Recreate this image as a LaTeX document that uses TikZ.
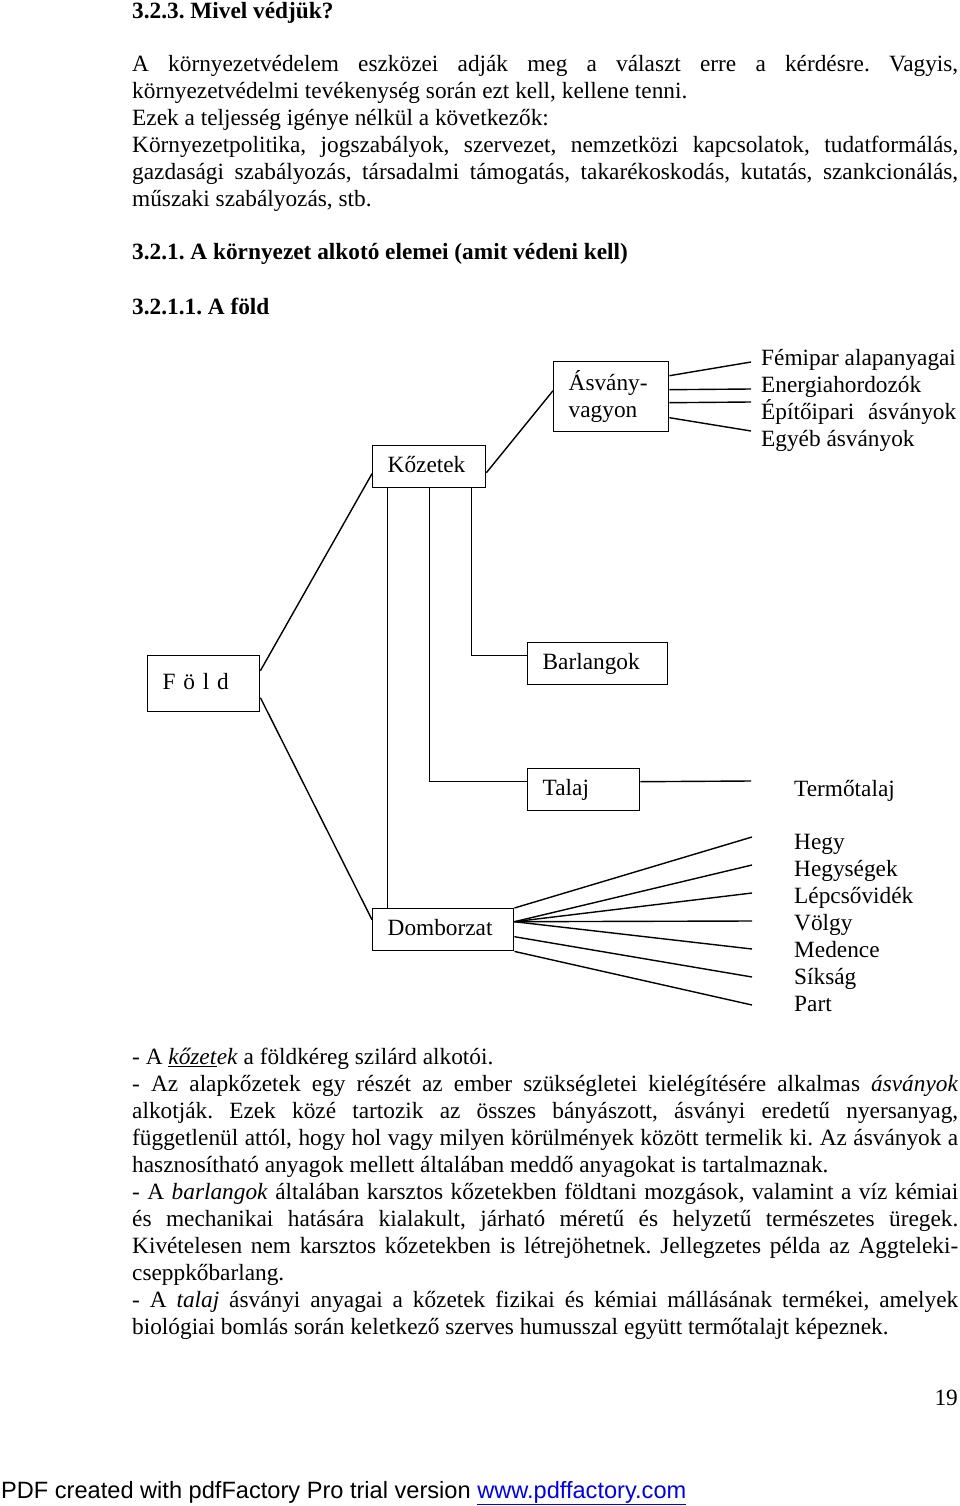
\documentclass[tikz,border=0pt]{standalone}
\usepackage{fontspec}
\setmainfont{Liberation Serif}
\newfontfamily\footfont{Liberation Sans}
\usetikzlibrary{positioning}
\definecolor{linkblue}{RGB}{0,0,238}
\tolerance=9999
\tikzset{x=1pt, y=-1pt, % one unit = one pixel of the page, y grows downwards
  every node/.style={inner sep=0pt,
    font=\fontsize{23.3}{27}\selectfont\frenchspacing},
  box/.style={ % framed parts of the tree
    draw, line width=1.4pt, anchor=north west,
    inner xsep=15pt, minimum height=42pt, align=left,
    execute at begin node=\strut},
  leaf/.style={anchor=base west},   % plain labels and single lines
  head/.style={anchor=base west,
    font=\fontsize{23.3}{27}\selectfont\bfseries\frenchspacing},
  para/.style={anchor=north west, text width=826pt, align=justify,
    execute at begin node=\strut},
  twig/.style={line width=1.4pt},   % slanted and fanned connectors
  stem/.style={line width=1.1pt}}   % straight ones below the rocks

\begin{document}
\begin{tikzpicture}
  \useasboundingbox (0,0) rectangle (960,1506);

  \node [head] (hwhat) at (132,19) {3.2.3. Mivel védjük?};
  \node [para] (ptools) at (132,52.1) {A környezetvédelem eszközei adják meg a választ erre a kérdésre. Vagyis,\linebreak
    környezetvédelmi tevékenység során ezt kell, kellene tenni.\par
    Ezek a teljesség igénye nélkül a következők:\par
    Környezetpolitika, jogszabályok, szervezet, nemzetközi kapcsolatok, tudatformálás,\linebreak
    gazdasági szabályozás, társadalmi támogatás, takarékoskodás, kutatás, szankcionálás,\linebreak
    műszaki szabályozás, stb.};
  \node [head] (hparts) at (132,260) {3.2.1. A környezet alkotó elemei (amit védeni kell)};
  \node [head] (hearth) at (132,314) {3.2.1.1. A föld};

  % the tree
  \node [box, text width=82pt, minimum height=56pt] (fold) at (147,655) {F ö l d};
  \node [box, text width=83pt] (kozetek) at (372,445) {Kőzetek};
  \node [box, text width=85pt, minimum height=70pt] (asvany) at (553,361) {Ásvány-\\vagyon};
  \node [box, text width=110pt] (barlang) at (527,642) {Barlangok};
  \node [box, text width=82pt] (talaj) at (527,768) {Talaj};
  \node [box, text width=111pt] (domb) at (372,908) {Domborzat};

  \draw [twig] ([yshift=13pt]fold.east) -- ([yshift=-7pt]kozetek.west);
  \draw [twig] ([yshift=-14pt]fold.east) -- ([yshift=10pt]domb.west);
  \draw [twig] ([yshift=-6pt]kozetek.east) -- ([yshift=6pt]asvany.west);

  \draw [stem] ([xshift=-42pt]kozetek.south) -- ([xshift=-42pt]kozetek.south |- domb.north);
  \draw [stem] (kozetek.south) |- ([yshift=8pt]talaj.west);
  \draw [stem] ([xshift=42pt]kozetek.south) |- ([yshift=8pt]barlang.west);

  % mineral wealth
  \coordinate (asv1) at (751,362);
  \coordinate (asv2) at (751,389);
  \coordinate (asv3) at (751,402);
  \coordinate (asv4) at (751,431);
  \draw [twig] ([yshift=21pt]asvany.east) -- (asv1);
  \draw [twig] ([yshift=7pt]asvany.east) -- (asv2);
  \draw [twig] ([yshift=-6pt]asvany.east) -- (asv3);
  \draw [twig] ([yshift=-21pt]asvany.east) -- (asv4);
  \node [leaf] (femip) at (761,365) {Fémipar alapanyagai};
  \node [leaf] (energ) at (761,392) {Energiahordozók};
  \node [leaf] (epito) at (761,419) {\makebox[195pt][s]{Építőipari ásványok}};
  \node [leaf] (egyeb) at (761,446) {Egyéb ásványok};

  % soil
  \coordinate (talend) at (751,781);
  \draw [twig] ([yshift=8pt]talaj.east) -- (talend);
  \node [leaf] (termo) at (794,796) {Termőtalaj};

  % relief
  \coordinate (dom1) at (752,837);
  \coordinate (dom2) at (752,865);
  \coordinate (dom3) at (752,893);
  \coordinate (dom4) at (752,921);
  \coordinate (dom5) at (752,949);
  \coordinate (dom6) at (752,977);
  \coordinate (dom7) at (752,1005);
  \draw [twig] (domb.north east) -- (dom1);
  \draw [twig] ([yshift=8pt]domb.east) -- (dom2);
  \draw [twig] ([yshift=8pt]domb.east) -- (dom3);
  \draw [twig] ([yshift=8pt]domb.east) -- (dom4);
  \draw [twig] ([yshift=8pt]domb.east) -- (dom5);
  \draw [twig] ([yshift=-7pt]domb.east) -- (dom6);
  \draw [twig] (domb.south east) -- (dom7);
  \node [leaf] (hegy) at (794,849) {Hegy};
  \node [leaf] (hegys) at (794,876) {Hegységek};
  \node [leaf] (lepcs) at (794,903) {Lépcsővidék};
  \node [leaf] (volgy) at (794,930) {Völgy};
  \node [leaf] (meden) at (794,957) {Medence};
  \node [leaf] (siksa) at (794,984) {Síkság};
  \node [leaf] (part) at (794,1011) {Part};

  \node [para] (pexpl) at (132,1045.1) {- A \underline{\textit{kőzet}}\textit{ek} a földkéreg szilárd alkotói.\par
    - Az alapkőzetek egy részét az ember szükségletei kielégítésére alkalmas \textit{ásványok}\linebreak
    alkotják. Ezek közé tartozik az összes bányászott, ásványi eredetű nyersanyag,\linebreak
    függetlenül attól, hogy hol vagy milyen körülmények között termelik ki. Az ásványok a\linebreak
    hasznosítható anyagok mellett általában meddő anyagokat is tartalmaznak.\par
    - A \textit{barlangok} általában karsztos kőzetekben földtani mozgások, valamint a víz kémiai\linebreak
    és mechanikai hatására kialakult, járható méretű és helyzetű természetes üregek.\linebreak
    Kivételesen nem karsztos kőzetekben is létrejöhetnek. Jellegzetes példa az Aggteleki-\linebreak
    cseppkőbarlang.\par
    - A \textit{talaj} ásványi anyagai a kőzetek fizikai és kémiai mállásának termékei, amelyek\linebreak
    biológiai bomlás során keletkező szerves humusszal együtt termőtalajt képeznek.};

  \node [anchor=base east] (pnum) at (958,1405) {19};
  \node [leaf, font=\footfont\fontsize{23.6}{27}\selectfont] (foot) at (1,1498)
    {PDF created with pdfFactory Pro trial version \textcolor{linkblue}{\underline{www.pdffactory.com}}};
\end{tikzpicture}
\end{document}
